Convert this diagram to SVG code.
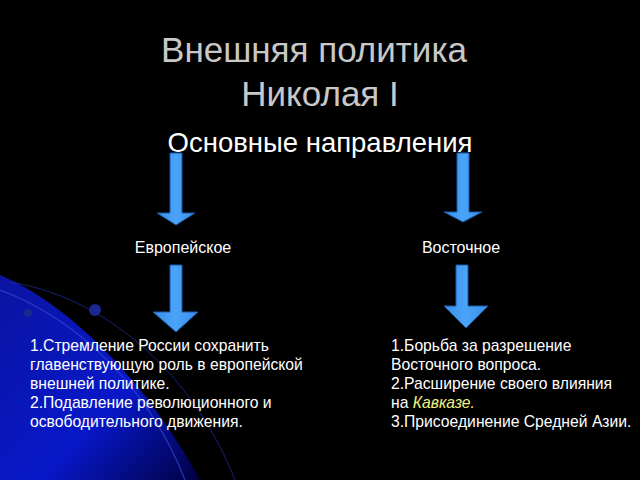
<svg xmlns="http://www.w3.org/2000/svg" width="640" height="480" viewBox="0 0 640 480">
<defs>
<linearGradient id="bg" x1="0" y1="0" x2="1" y2="1">
<stop offset="0" stop-color="#0a14a0"/><stop offset="0.6" stop-color="#0818c8"/><stop offset="1" stop-color="#000040"/>
</linearGradient>
<linearGradient id="ar" x1="0" y1="0" x2="1" y2="0">
<stop offset="0" stop-color="#3a8ee8"/><stop offset="0.5" stop-color="#4aa4f8"/><stop offset="1" stop-color="#3a8ee8"/>
</linearGradient>
<style>
text{font-family:"Liberation Sans",Arial,sans-serif;fill:#fff}
.t{fill:#c8c8c8;font-size:35px}
.s{font-size:15.7px}
.l{font-size:16px}
.a{fill:url(#ar);stroke:#1a5aa8;stroke-width:1}
</style>
</defs>
<rect width="640" height="480" fill="#000"/>
<path d="M0,275 C60,300 140,370 200,480 L0,480 Z" fill="url(#bg)"/>
<path d="M0,290 C80,320 150,390 185,480" fill="none" stroke="#3040d0" stroke-width="1.5" opacity="0.7"/>
<path d="M10,282 C120,300 200,390 235,480" fill="none" stroke="#2030a0" stroke-width="1" opacity="0.7"/>
<circle cx="95" cy="310" r="6" fill="#1a2890"/>
<circle cx="28" cy="313" r="4" fill="#1a2890"/>
<g id="title">
<text class="t" x="314" y="62" text-anchor="middle">Внешняя политика</text>
<text class="t" x="320" y="106" text-anchor="middle">Николая I</text>
<text x="320" y="152" text-anchor="middle" font-size="27.5">Основные направления</text>
</g>
<g id="connectors">
<path class="a" d="M170,153 H182 V213 H195 L176,225 L157,213 H170 Z"/>
<path class="a" d="M457,153 H469 V212 H482 L463,222 L444,212 H457 Z"/>
<path class="a" d="M170,265 H182 V312 H198 L176,332 L153,312 H170 Z"/>
<path class="a" d="M456,265 H468 V306 H488 L466,328 L444,306 H456 Z"/>
</g>
<g id="european">
<text class="l" x="183" y="253" text-anchor="middle">Европейское</text>
</g>
<g id="eastern">
<text class="l" x="461" y="253" text-anchor="middle">Восточное</text>
</g>
<g id="left-list">
<text class="s" x="30" y="351">1.Стремление России сохранить</text>
<text class="s" x="30" y="370">главенствующую роль в европейской</text>
<text class="s" x="30" y="389">внешней политике.</text>
<text class="s" x="30" y="408">2.Подавление революционного и</text>
<text class="s" x="30" y="427">освободительного движения.</text>
</g>
<g id="right-list">
<text class="s" x="391" y="351">1.Борьба за разрешение</text>
<text class="s" x="391" y="370">Восточного вопроса.</text>
<text class="s" x="391" y="389">2.Расширение своего влияния</text>
<text class="s" x="391" y="408">на <tspan fill="#f0f080" font-style="italic">Кавказе.</tspan></text>
<text class="s" x="391" y="427">3.Присоединение Средней Азии.</text>
</g>
</svg>
